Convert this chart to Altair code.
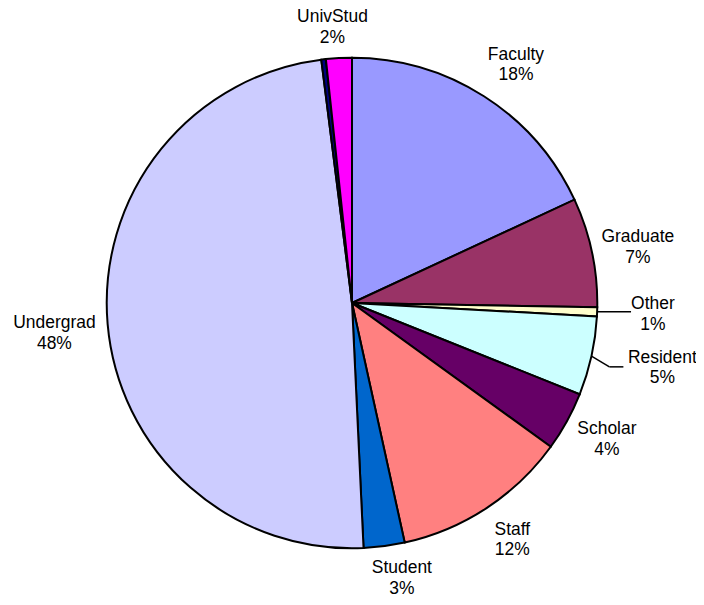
import altair as alt
import pandas as pd

categories = ["Faculty", "Graduate", "Other", "Resident", "Scholar", "Staff",
              "Student", "Undergrad", "Unknown", "UnivStud"]
values = [18.1, 7.2, 0.6, 5.2, 3.9, 11.6, 2.7, 48.8, 0.3, 1.7]
pct_labels = ["18%", "7%", "1%", "5%", "4%", "12%", "3%", "48%", "", "2%"]
colors = ["#9999FF", "#993366", "#FFFFCC", "#CCFFFF", "#660066", "#FF8080",
          "#0066CC", "#CCCCFF", "#000080", "#FF00FF"]

df = pd.DataFrame({
    "category": categories,
    "value": values,
    "pct": pct_labels,
    "idx": list(range(len(categories))),
})
df["label"] = [f"{c}\n{p}" if p else "" for c, p in zip(categories, pct_labels)]

CX, CY, R = 345, 295, 246
FONT = "Liberation Sans"
LH = 20.5

# label layout (style): distance from centre and small angular nudge (deg) from the slice mid-angle
label_layout = {"Faculty": (290, 2.0), "Graduate": (292, 1.0), "Other": (302, 0.1),
                "Resident": (318, -0.7), "Scholar": (290, -0.7), "Staff": (287, -0.8),
                "Student": (281, -2.7), "Undergrad": (300, -0.9), "UnivStud": (277, -1.0)}
lr_expr = " : ".join(f"datum.category==='{k}' ? {v[0]}" for k, v in label_layout.items()) + " : 288"
da_expr = " : ".join(f"datum.category==='{k}' ? {v[1]}" for k, v in label_layout.items()) + " : 0"

pie = alt.Chart(df).mark_arc(outerRadius=R, stroke="black", strokeWidth=2).encode(
    theta=alt.Theta("value:Q", stack=True),
    order=alt.Order("idx:Q", sort="ascending"),
    color=alt.Color("category:N", scale=alt.Scale(domain=categories, range=colors), legend=None),
    x=alt.value(CX),
    y=alt.value(CY),
)

# mid-angle of each slice, computed by the library from the values
mid_base = alt.Chart(df).transform_joinaggregate(
    total="sum(value)"
).transform_window(
    cum="sum(value)", sort=[alt.SortField("idx")], frame=[None, 0]
).transform_calculate(
    mid="(datum.cum - datum.value/2) / datum.total * 2 * PI"
)

labels = mid_base.transform_calculate(
    lr=lr_expr, da=da_expr
).transform_calculate(
    lt="datum.mid + datum.da * PI / 180"
).mark_text(
    font=FONT, fontSize=17.5, lineHeight=LH, lineBreak="\n",
    align="center", baseline="middle", color="black", dy=-LH / 2,
).encode(
    text="label:N",
    theta=alt.Theta("lt:Q", scale=None),
    radius=alt.Radius("lr:Q", scale=None),
    x=alt.value(CX),
    y=alt.value(CY),
)

lead_base = mid_base.transform_filter(
    "datum.category==='Other' || datum.category==='Resident'"
)

radial = lead_base.transform_filter("datum.category==='Resident'").transform_calculate(
    x1=f"{CX} + {R}*sin(datum.mid)",
    y1=f"{CY} - {R}*cos(datum.mid)",
    x2=f"{CX} + 266*sin(datum.mid + 0.025)",
    y2=f"{CY} - 266*cos(datum.mid + 0.025)",
).mark_rule(color="black", strokeWidth=1.5).encode(
    x=alt.X("x1:Q", scale=None), y=alt.Y("y1:Q", scale=None),
    x2="x2:Q", y2="y2:Q",
)

horiz = lead_base.transform_calculate(
    rs="datum.category==='Other' ? " + str(R) + " : 266",
    da="datum.category==='Other' ? 0 : 0.025",
    ln="datum.category==='Other' ? 34 : 14",
).transform_calculate(
    x1=f"{CX} + datum.rs*sin(datum.mid + datum.da)",
    y1=f"{CY} - datum.rs*cos(datum.mid + datum.da)",
).transform_calculate(
    x2="datum.x1 + datum.ln",
).mark_rule(color="black", strokeWidth=1.5).encode(
    x=alt.X("x1:Q", scale=None), y=alt.Y("y1:Q", scale=None),
    x2="x2:Q", y2="y1:Q",
)

chart = alt.layer(pie, radial, horiz, labels).properties(
    width=690, height=589, padding=0,
    autosize=alt.AutoSizeParams(type="none"),
    background="white",
).configure_view(stroke=None)

chart.save("out.html", embed_options={"renderer": "svg", "actions": False})
